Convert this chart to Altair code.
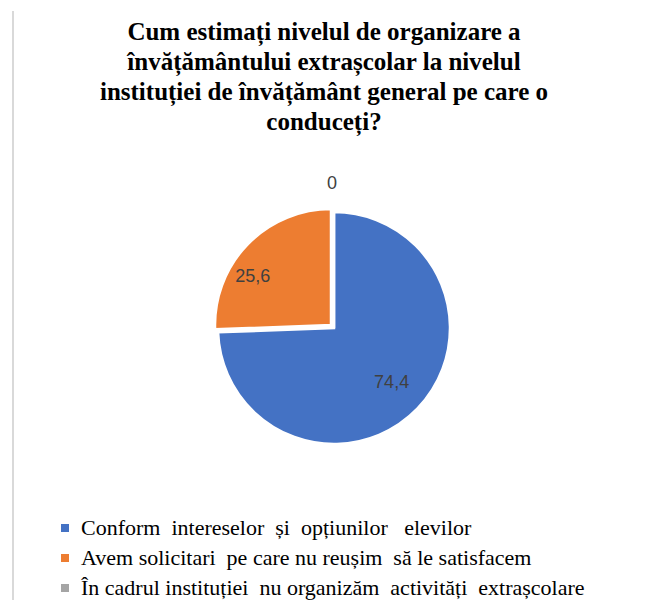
import altair as alt
import pandas as pd

NB = "\u00a0"
categories = [
    f"Conform {NB}intereselor {NB}și {NB}opțiunilor {NB}{NB}elevilor",
    f"Avem solicitari {NB}pe care nu reușim {NB}să le satisfacem",
    f"În cadrul instituției {NB}nu organizăm {NB}activități {NB}extrașcolare",
]
values = [74.4, 25.6, 0]
labels = ["74,4", "25,6", "0"]
colors = ["#4472C4", "#ED7D31", "#A5A5A5"]
title_lines = [
    "Cum estimați nivelul de organizare a",
    "învățământului extrașcolar la nivelul",
    "instituției de învățământ general pe care o",
    "conduceți?",
]

df = pd.DataFrame({"cat": categories, "val": values, "lab": labels, "idx": list(range(len(values)))})

SERIF = "Liberation Serif, Times New Roman, serif"
CX, CY, R = 326, 170, 116
label_radius = [80, 96, 142]
label_shift = [(0, 0), (-9, 19), (-2, -2)]
offsets = [(0, 0), (-3, -3), (0, 0)]

base = alt.Chart(df).transform_window(
    cum="sum(val)", sort=[alt.SortField("idx")], frame=[None, 0]
).transform_calculate(
    start="datum.cum - datum.val", mid="datum.cum - datum.val / 2"
)

theta_scale = alt.Scale(domain=[0, 100], range=[0, 6.283185307179586])

color = alt.Color(
    "cat:N",
    scale=alt.Scale(domain=categories, range=colors),
    legend=alt.Legend(
        title=None,
        orient="none",
        legendX=46,
        legendY=359,
        direction="vertical",
        symbolType="square",
        symbolSize=64,
        symbolStrokeWidth=0,
        labelFont=SERIF,
        labelFontSize=22,
        labelColor="#000000",
        labelLimit=700,
        rowPadding=8,
        labelOffset=5,
    ),
    sort=categories,
)

layers = []
border = alt.Chart(df).mark_rule(color="#d9d9d9", strokeWidth=2).encode(
    x=alt.value(5), y=alt.value(-147), y2=alt.value(460)
)
layers.append(border)

title = alt.Chart(alt.Data(values=[{"t": 1}])).mark_text(
    font=SERIF, fontSize=25, fontWeight="bold", color="#000000",
    lineHeight=30, baseline="alphabetic", align="center",
).encode(
    text=alt.value(title_lines),
    x=alt.value(316),
    y=alt.value(-118),
)
layers.append(title)

for i in range(len(values)):
    dx, dy = offsets[i]
    arc = base.transform_filter(f"datum.idx == {i}").mark_arc(
        radius=R, stroke="white", strokeWidth=2.5
    ).encode(
        theta=alt.Theta("start:Q", scale=theta_scale),
        theta2="cum:Q",
        color=color,
        x=alt.value(CX + dx),
        y=alt.value(CY + dy),
    )
    layers.append(arc)

for i in range(len(values)):
    dx, dy = offsets[i]
    sx, sy = label_shift[i]
    txt = base.transform_filter(f"datum.idx == {i}").mark_text(
        font="Liberation Sans", fontSize=18, color="#404040",
        radius=label_radius[i], dx=sx, dy=sy,
    ).encode(
        theta=alt.Theta("mid:Q", scale=theta_scale),
        text="lab:N",
        x=alt.value(CX + dx),
        y=alt.value(CY + dy),
    )
    layers.append(txt)

chart = alt.layer(*layers).properties(
    width=639,
    height=442,
    padding={"left": 0, "top": 150, "right": 0, "bottom": 0},
    autosize=alt.AutoSizeParams(type="none"),
).configure_view(stroke=None)

chart.save("out.html", embed_options={"renderer": "svg", "actions": False})
